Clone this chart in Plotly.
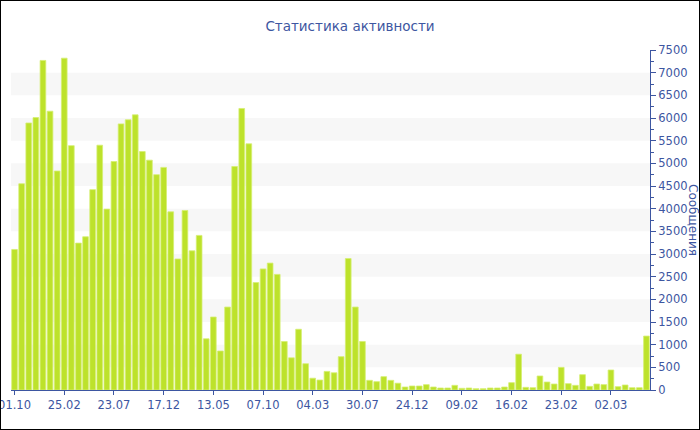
import plotly.graph_objects as go

# ---- data ----
values = [3100, 4550, 5890, 6010, 7270, 6150, 4830, 7320, 5390, 3240,
          3380, 4420, 5400, 3990, 5040, 5870, 5960, 6070, 5260, 5070,
          4750, 4910, 3930, 2890, 3960, 3070, 3410, 1130, 1610, 860,
          1830, 4930, 6210, 5430, 2370, 2670, 2800, 2550, 1070, 710,
          1340, 580, 260, 220, 410, 380, 735, 2900, 1830, 1070,
          213, 184, 294, 213, 150, 66, 88, 88, 118, 66,
          44, 44, 103, 37, 44, 29, 29, 44, 44, 66,
          162, 790, 59, 51, 309, 176, 132, 500, 140, 103,
          338, 81, 132, 118, 441, 74, 110, 51, 51, 1190]
tick_labels = ["01.10", "25.02", "23.07", "17.12", "13.05", "07.10", "04.03",
               "30.07", "24.12", "09.02", "16.02", "23.02", "02.03"]
title_text = "Статистика активности"
y_title = "Сообщения"

x_idx = list(range(len(values)))
tick_step = 7
tick_pos = [i * tick_step for i in range(len(tick_labels))]

BLUE = "#3d56a1"
FONT = "DejaVu Sans"
L, R, T, B = 11, 50, 50, 40
W, H = 700, 430
pw, ph = W - L - R, H - T - B

fig = go.Figure()
fig.add_trace(go.Bar(
    x=x_idx, y=values,
    marker=dict(color="#bde22b", line=dict(color="#d6ef72", width=0.8)),
    hoverinfo="y",
))

shapes = []
# alternating light bands
for lo in range(500, 7500, 1000):
    shapes.append(dict(type="rect", xref="paper", x0=0, x1=1, yref="y",
                       y0=lo, y1=lo + 500, fillcolor="#f7f7f7",
                       line=dict(width=0), layer="below"))
# outer frame
shapes.append(dict(type="rect", xref="paper", yref="paper",
                   x0=-L / pw, x1=1 + R / pw, y0=-B / ph, y1=1 + T / ph,
                   line=dict(color="black", width=2), fillcolor="rgba(0,0,0,0)"))

fig.update_layout(
    width=W, height=H,
    margin=dict(l=L, r=R, t=T, b=B, autoexpand=False),
    paper_bgcolor="white", plot_bgcolor="white",
    bargap=0.2,
    showlegend=False,
    font=dict(family=FONT, color=BLUE, size=11.5),
    title=dict(text=title_text, x=0.5, xanchor="center", xref="container",
               y=1 - 26 / H, yref="container", yanchor="middle",
               font=dict(family=FONT, size=13.5, color=BLUE)),
    shapes=shapes,
    annotations=[dict(text=y_title, xref="paper", yref="paper",
                      x=1 + 43 / pw, y=0.5, textangle=90, showarrow=False,
                      xanchor="center", yanchor="middle",
                      font=dict(family=FONT, size=12, color=BLUE))],
)
fig.update_xaxes(
    range=[-0.5, len(values) - 0.5],
    tickmode="array", tickvals=tick_pos, ticktext=tick_labels,
    showline=True, linecolor=BLUE, linewidth=1,
    ticks="outside", ticklen=4, tickcolor=BLUE,
    showgrid=False, zeroline=False, automargin=False,
    ticklabeloverflow="allow",
    tickfont=dict(family=FONT, size=11.5, color=BLUE),
)
fig.update_yaxes(
    side="right", range=[0, 7500], dtick=500, tick0=0,
    showline=True, linecolor=BLUE, linewidth=1,
    ticks="outside", ticklen=5, tickcolor=BLUE,
    minor=dict(dtick=250, ticks="outside", ticklen=3, tickcolor=BLUE, showgrid=False),
    showgrid=False, zeroline=False, automargin=False,
    ticklabeloverflow="allow",
    tickfont=dict(family=FONT, size=11.5, color=BLUE),
)

fig.write_html("out.html", config={"displayModeBar": False},
               post_script="document.body.style.margin='0';")
